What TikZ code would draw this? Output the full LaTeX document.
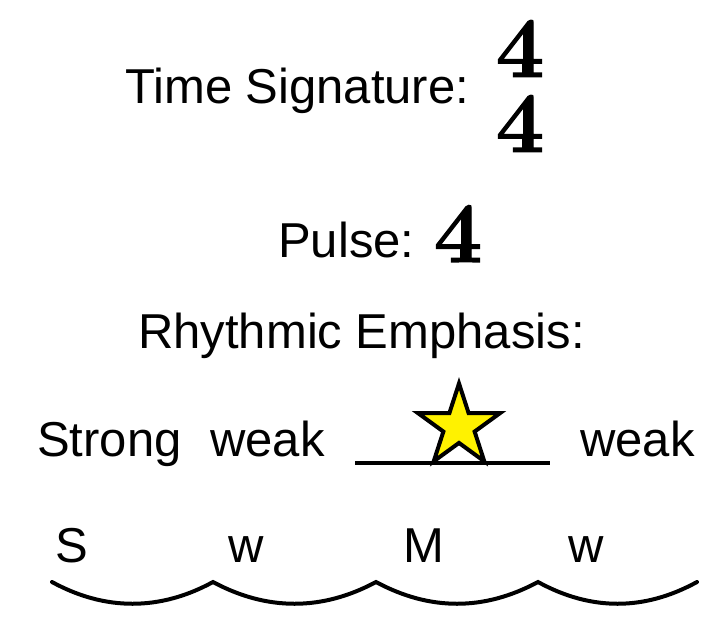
\documentclass[tikz,border=0pt]{standalone}
\usepackage{fontspec}
\setmainfont{Liberation Sans}
\newfontfamily\digitfont{Latin Modern Roman}[FakeBold=1.5]
\usetikzlibrary{shapes.geometric}
\tikzset{
  lbl/.style={inner sep=0pt, anchor=base west, font=\fontsize{49}{58}\selectfont},
  bigdigit/.style={inner sep=0pt, font=\digitfont\bfseries\fontsize{86}{72}\selectfont},
  wave/.style={line width=4pt, line cap=round, line join=miter},
}
\begin{document}
\begin{tikzpicture}[x=1pt,y=-1pt]
\useasboundingbox (0,0) rectangle (728,616);
% title lines
\node[lbl] (ts) at (125,103) {Time Signature:};
\node[bigdigit, align=center, anchor=south] (frac) at (520,152) {4\\[3pt]4};
\node[lbl] (pulse) at (278,257) {Pulse:};
\node[bigdigit, anchor=base] (p4) at (458,262) {4};
\node[lbl] (re) at (138,348) {Rhythmic Emphasis:};
% emphasis row
\node[lbl] (strong) at (37,456) {Strong};
\node[lbl] (weak1) at (210,456) {weak};
\coordinate (ls) at (355,463);
\coordinate (le) at (550,463);
\draw[line width=3.5pt] (ls) -- (le);
\node[star, star points=5, star point ratio=2.618, minimum size=86pt, inner sep=0pt,
      draw=black, line width=4pt, fill=yellow] (st) at (459,426.5) {};
\node[lbl] (weak2) at (580,456) {weak};
% letters
\node[lbl] (S) at (55,562) {S};
\node[lbl] (w1) at (228,562) {w};
\node[lbl] (M) at (403,562) {M};
\node[lbl] (w2) at (568,562) {w};
% waves
\coordinate (a0) at (52,582);
\coordinate (a1) at (213,582);
\coordinate (a2) at (376,582);
\coordinate (a3) at (538,582);
\coordinate (a4) at (697,582);
\draw[wave] (a0) .. controls (105,611) and (160,611) .. (a1)
  .. controls (267,611) and (322,611) .. (a2)
  .. controls (430,611) and (484,611) .. (a3)
  .. controls (591,611) and (644,611) .. (a4);
\end{tikzpicture}
\end{document}
